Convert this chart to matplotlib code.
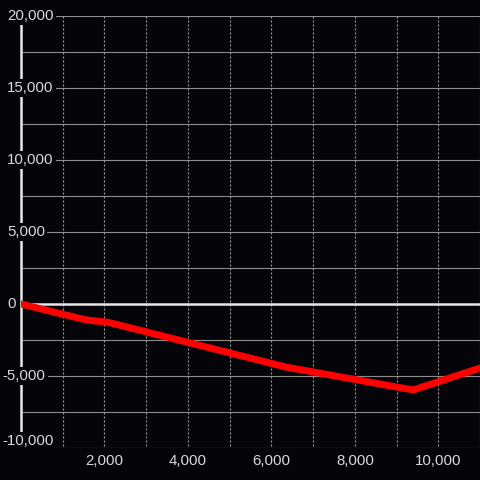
import matplotlib
matplotlib.use('Agg')
import matplotlib.pyplot as plt

# DATA
x_vals = [0, 1550, 2100, 6350, 9400, 11050]
y_vals = [0, -1100, -1280, -4380, -5970, -4400]
y_ticks = [20000, 15000, 10000, 5000, 0, -5000, -10000]
x_ticks = [2000, 4000, 6000, 8000, 10000]

# STYLE
BG = '#050408'
TXT = '#d9d9d9'
GRID = '#8c8c8c'
AXIS = '#e6e6e6'
plt.rcParams['font.family'] = ['Liberation Sans', 'DejaVu Sans']

fig = plt.figure(figsize=(4.8, 4.8), dpi=100, facecolor=BG)
ax = fig.add_axes([21/480, 32/480, 459/480, 432/480])
ax.set_facecolor(BG)
ax.set_xlim(0, 11000)
ax.set_ylim(-10000, 20000)
for s in ax.spines.values():
    s.set_visible(False)
ax.set_xticks([])
ax.set_yticks([])

# grid
for yv in range(-10000, 20001, 2500):
    ax.axhline(yv, color=GRID, lw=0.8, zorder=1)
for xv in range(1000, 11001, 1000):
    ax.axvline(xv, ymin=0.005, color='#a0a0a0', lw=0.8, ls=(0, (1.8, 1.8)), zorder=1)

ax.axhline(0, color=AXIS, lw=1.8, zorder=2)
ax.axvline(0, color=AXIS, lw=1.8, zorder=2, clip_on=False)

ax.plot(x_vals, y_vals, color='#ff0000', lw=5, solid_joinstyle='round', zorder=3)

# y labels
box = dict(boxstyle='square,pad=0.15', fc=BG, ec='none')
for yv in y_ticks:
    lbl = f'{yv:,}'
    dx = -13.4 if yv < 0 else -10.1
    dy = 5 if yv == -10000 else 0
    ax.annotate(lbl, xy=(0, yv), xycoords=ax.get_yaxis_transform(),
                xytext=(dx, dy), textcoords='offset points',
                ha='left', va='center', color=TXT, fontsize=10.8,
                bbox=box, zorder=4, annotation_clip=False)

# x labels
for xv in x_ticks:
    ax.annotate(f'{xv:,}', xy=(xv, 0), xycoords=ax.get_xaxis_transform(),
                xytext=(0, -9.6), textcoords='offset points',
                ha='center', va='center', color=TXT, fontsize=10.8,
                zorder=4, annotation_clip=False)

fig.savefig('out.png', dpi=100, facecolor=BG)
